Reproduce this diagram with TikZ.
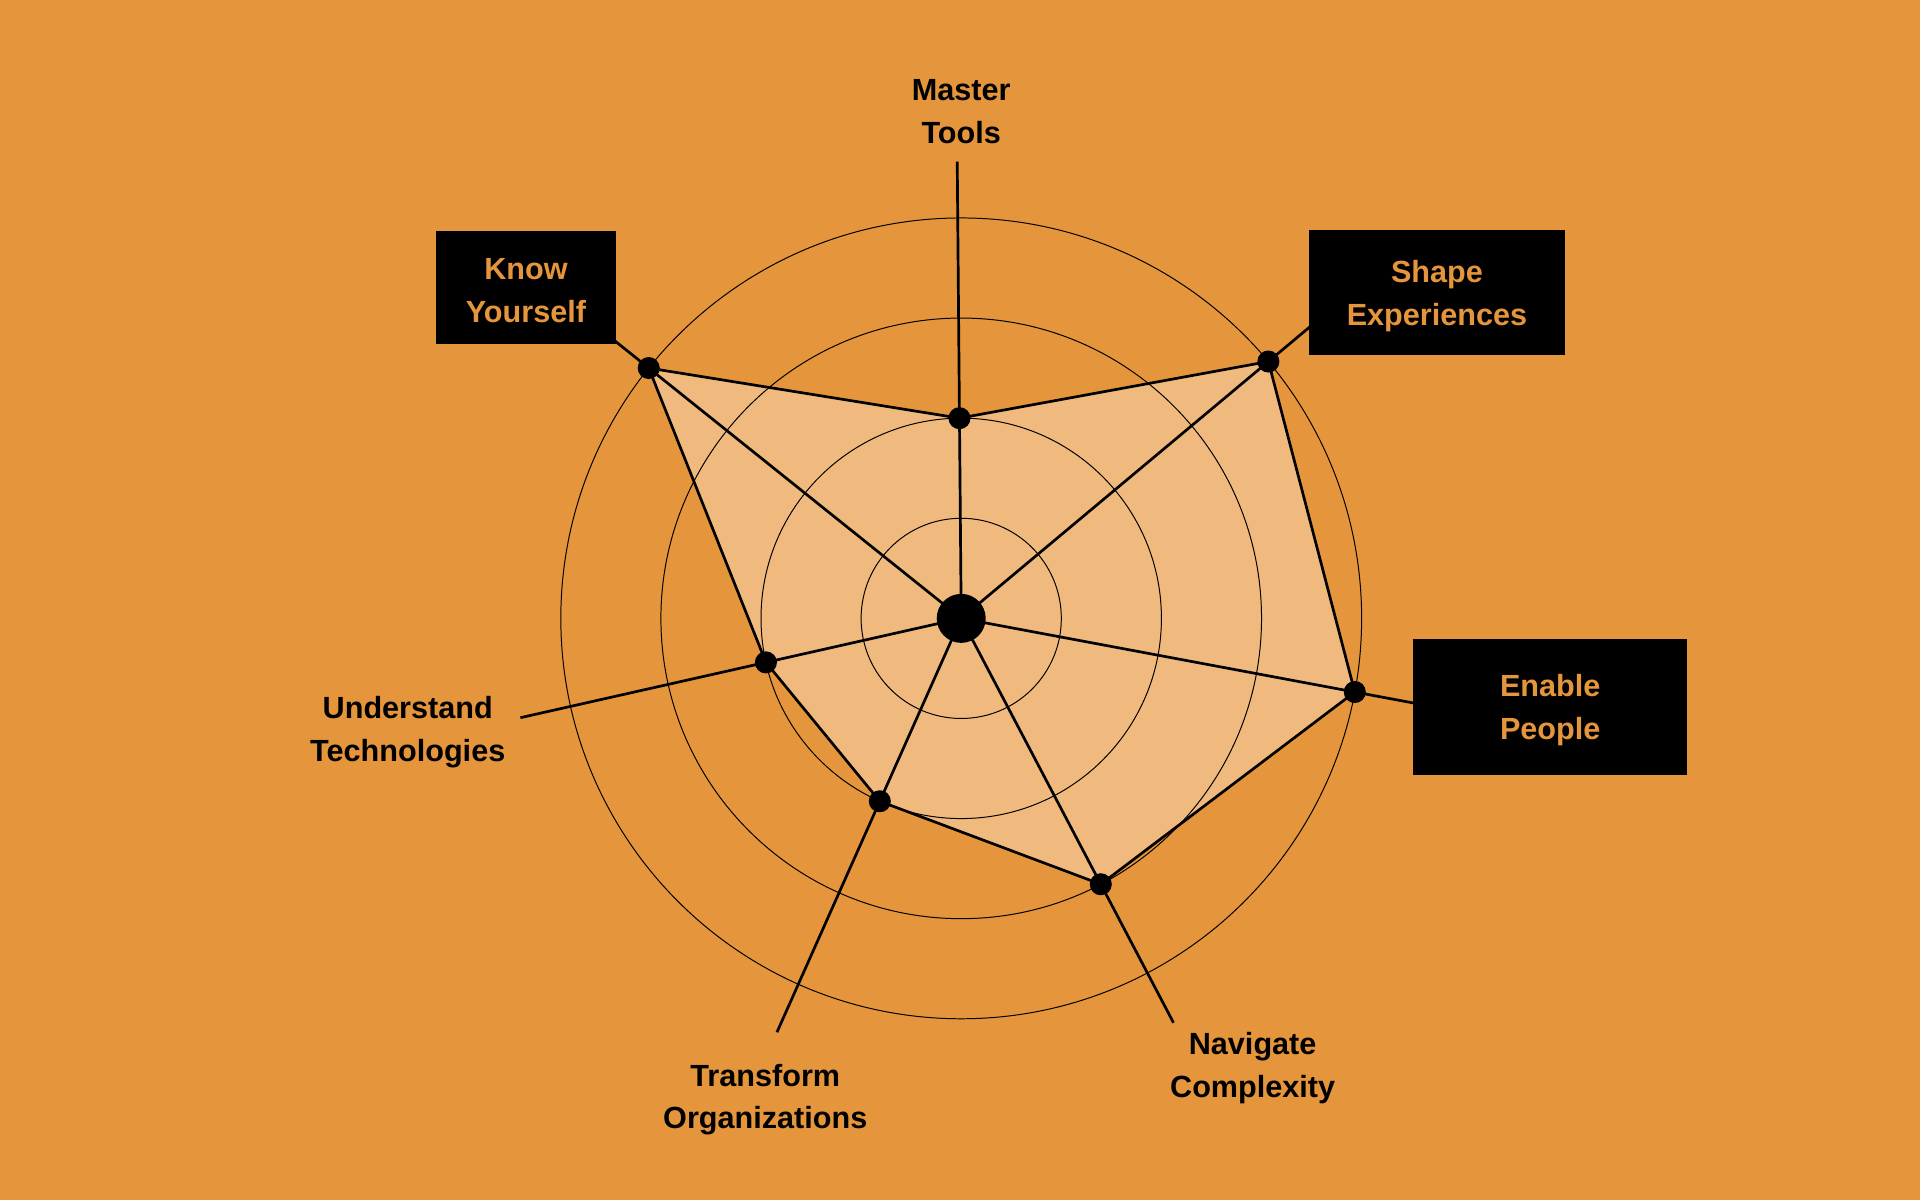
\documentclass[tikz,border=0pt]{standalone}
\usepackage{fontspec}
\setmainfont{Liberation Sans}
\definecolor{bg}{RGB}{229,149,59}
\definecolor{fillc}{RGB}{240,186,126}
\begin{document}
\begin{tikzpicture}[x=1pt,y=1pt,
  ring/.style={draw=black,line width=0.8pt},
  spoke/.style={draw=black,line width=2.2pt},
  dot/.style={circle,fill=black,inner sep=0pt,minimum size=18pt},
  hub/.style={circle,fill=black,inner sep=0pt,minimum size=40pt},
  lbl/.style={font=\fontsize{25}{35}\selectfont\bfseries,align=center,text=black,inner sep=0pt},
  boxtext/.style={font=\fontsize{25}{35}\selectfont\bfseries,align=center,text=bg,inner sep=0pt,yshift=-2.5pt},
  blackbox/.style={fill=black,inner sep=0pt}]
\fill[bg] (-785,-475) rectangle (783,505);
\useasboundingbox (-785,-475) rectangle (783,505);
\coordinate (C) at (0,0);
% value points
\coordinate (vM) at (90.5:163.5);
\coordinate (vS) at (39.9:327);
\coordinate (vE) at (-10.6:327);
\coordinate (vN) at (-62.3:245.25);
\coordinate (vT) at (-114:163.5);
\coordinate (vU) at (-167.3:163.5);
\coordinate (vK) at (141.3:327);
% spoke ends
\coordinate (eM) at (90.5:373);
\coordinate (eS) at (39.9:385);
\coordinate (eE) at (-10.6:385);
\coordinate (eN) at (-62.3:373);
\coordinate (eT) at (-114:370);
\coordinate (eU) at (-167.3:369);
\coordinate (eK) at (141.3:385);
% filled polygon
\fill[fillc] (vM) -- (vS) -- (vE) -- (vN) -- (vT) -- (vU) -- (vK) -- cycle;
% rings
\foreach \r in {81.75,163.5,245.25,327} \draw[ring] (C) circle (\r);
% polygon outline
\draw[spoke,line join=round] (vM) -- (vS) -- (vE) -- (vN) -- (vT) -- (vU) -- (vK) -- cycle;
% spokes
\foreach \e in {eM,eS,eE,eN,eT,eU,eK} \draw[spoke] (C) -- (\e);
% dots
\node[hub] (hub) at (C) {};
\node[dot] (dM) at (vM) {};
\node[dot] (dS) at (vS) {};
\node[dot] (dE) at (vE) {};
\node[dot] (dN) at (vN) {};
\node[dot] (dT) at (vT) {};
\node[dot] (dU) at (vU) {};
\node[dot] (dK) at (vK) {};
% boxed labels
\node[blackbox,minimum width=147pt,minimum height=92pt,
  label={[boxtext]center:Know\\Yourself}] (know) at (-355.5,270) {};
\node[blackbox,minimum width=209pt,minimum height=102pt,
  label={[boxtext]center:Shape\\Experiences}] (shape) at (388.5,266) {};
\node[blackbox,minimum width=224pt,minimum height=111pt,
  label={[boxtext]center:Enable\\People}] (enable) at (481,-72.5) {};
% plain labels
\node[lbl] (master) at (0,414) {Master\\Tools};
\node[lbl] (understand) at (-452,-93) {Understand\\Technologies};
\node[lbl] (transform) at (-160,-393) {Transform\\Organizations};
\node[lbl] (navigate) at (238,-367.5) {Navigate\\Complexity};
\end{tikzpicture}
\end{document}
